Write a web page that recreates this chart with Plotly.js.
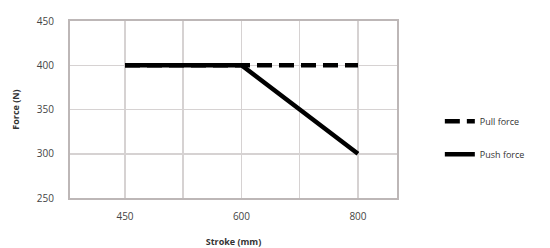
<!DOCTYPE html>
<html>
<head>
<meta charset="utf-8">
<script src="https://cdn.plot.ly/plotly-3.0.1.min.js"></script>
<style>html,body{margin:0;padding:0;background:#fff;}#chart{width:550px;height:248px;}</style>
</head>
<body>
<div id="chart"></div>
<script>
const strokeCategories = ['450', '600', '800'];
const pullForce = [400, 400, 400];
const pushForce = [400, 400, 300];
const yTicks = [250, 300, 350, 400, 450];

// category positions (index-based, like a spreadsheet line chart)
const xIdx = strokeCategories.map((c, i) => i);
const gridVals = [];
const gridText = [];
xIdx.forEach((v, i) => {
  gridVals.push(v); gridText.push(strokeCategories[i]);
  if (i < xIdx.length - 1) { gridVals.push(v + 0.5); gridText.push(''); }
});

const fontFam = 'Open Sans, Liberation Sans, sans-serif';

const traces = [
  {x: xIdx, y: pullForce, name: 'Pull force', mode: 'lines', legendgroup: 'a',
   line: {color: '#000', width: 4.5, dash: '15px,7px'}},
  {x: xIdx, y: pushForce, name: 'Push force', mode: 'lines', legendgroup: 'b',
   line: {color: '#000', width: 4.5}}
];

const layout = {
  width: 550, height: 248,
  margin: {l: 70, r: 153, t: 21, b: 50},
  paper_bgcolor: '#fff', plot_bgcolor: '#fff',
  showlegend: true,
  legend: {x: 1.131, y: 0.34, xanchor: 'left', yanchor: 'middle',
           font: {family: fontFam, size: 9, color: '#333'},
           traceorder: 'grouped', tracegroupgap: 14, itemwidth: 30},
  xaxis: {
    range: [-0.472, 2.335], tickmode: 'array', tickvals: gridVals, ticktext: gridText,
    showgrid: true, gridcolor: '#d6d2d2', gridwidth: 1.5,
    showline: true, linecolor: '#bdb7b7', linewidth: 2, mirror: true,
    zeroline: false, ticks: '', ticklabelstandoff: 8,
    tickfont: {family: fontFam, size: 10, color: '#444'},
    title: {text: '<b>Stroke (mm)</b>', font: {family: fontFam, size: 9, color: '#333'}, standoff: 17}
  },
  yaxis: {
    range: [250, 450], tickmode: 'array', tickvals: yTicks,
    showgrid: true, gridcolor: '#d6d2d2', gridwidth: 1.5,
    showline: true, linecolor: '#bdb7b7', linewidth: 2, mirror: true,
    zeroline: false, ticks: '', ticklabelstandoff: 12,
    tickfont: {family: fontFam, size: 10, color: '#444'},
    title: {text: '<b>Force (N)</b>', font: {family: fontFam, size: 9, color: '#333'}, standoff: 16}
  }
};

Plotly.newPlot('chart', traces, layout, {displayModeBar: false, staticPlot: true});
</script>
</body>
</html>
